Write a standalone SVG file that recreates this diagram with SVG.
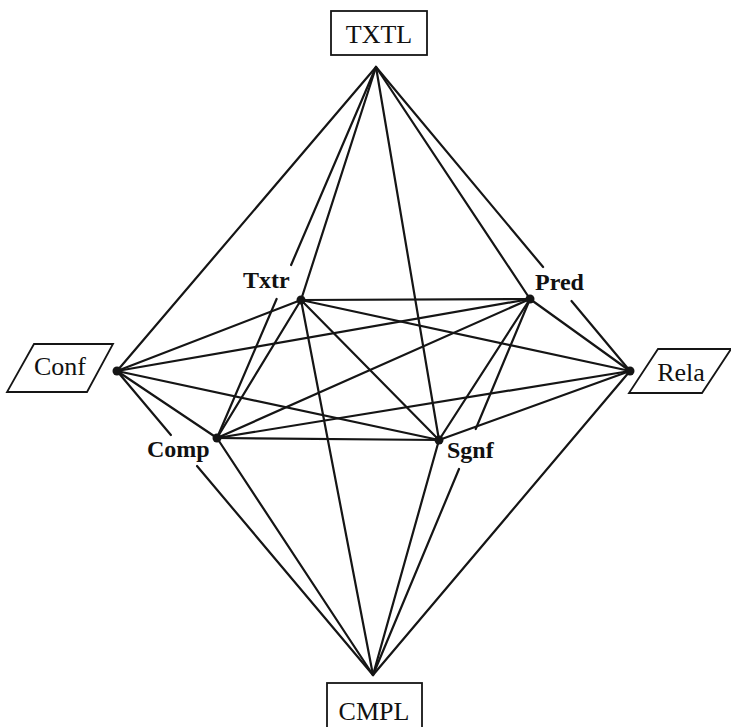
<svg xmlns="http://www.w3.org/2000/svg" width="731" height="727" viewBox="0 0 731 727">
<style>
.edge{stroke:#151515;stroke-width:2.2;fill:none;stroke-linecap:round}
.box{fill:#fff;stroke:#151515;stroke-width:1.8}
.big{font-family:"Liberation Serif","Times New Roman",serif;font-size:26px;fill:#111}
.lab{font-family:"Liberation Serif","Times New Roman",serif;font-size:24px;font-weight:bold;fill:#111}
.dot{fill:#151515}
</style>
<rect width="731" height="727" fill="#fff"/>
<g id="connectors">
<line class="edge" x1="376" y1="67" x2="117" y2="371"/>
<path class="edge" d="M376,67 L291.1,265 M276.6,299 L217,438"/>
<line class="edge" x1="376" y1="67" x2="301" y2="300"/>
<line class="edge" x1="376" y1="67" x2="439" y2="440"/>
<line class="edge" x1="376" y1="67" x2="530" y2="299"/>
<path class="edge" d="M376,67 L543.1,267 M571.5,301 L630,371"/>
<path class="edge" d="M117,371 L170.9,435 M197,466 L373,675"/>
<line class="edge" x1="217" y1="438" x2="373" y2="675"/>
<line class="edge" x1="301" y1="300" x2="373" y2="675"/>
<line class="edge" x1="439" y1="440" x2="373" y2="675"/>
<path class="edge" d="M530,299 L475.7,429 M459,469 L373,675"/>
<line class="edge" x1="630" y1="371" x2="373" y2="675"/>
<line class="edge" x1="301" y1="300" x2="530" y2="299"/>
<line class="edge" x1="301" y1="300" x2="117" y2="371"/>
<line class="edge" x1="301" y1="300" x2="630" y2="371"/>
<line class="edge" x1="301" y1="300" x2="217" y2="438"/>
<line class="edge" x1="301" y1="300" x2="439" y2="440"/>
<line class="edge" x1="530" y1="299" x2="117" y2="371"/>
<line class="edge" x1="530" y1="299" x2="630" y2="371"/>
<line class="edge" x1="530" y1="299" x2="217" y2="438"/>
<line class="edge" x1="530" y1="299" x2="439" y2="440"/>
<line class="edge" x1="117" y1="371" x2="439" y2="440"/>
<line class="edge" x1="117" y1="371" x2="217" y2="438"/>
<line class="edge" x1="630" y1="371" x2="217" y2="438"/>
<line class="edge" x1="630" y1="371" x2="439" y2="440"/>
<line class="edge" x1="217" y1="438" x2="439" y2="440"/>
</g>
<g id="TXTL">
<rect class="box" x="331" y="11" width="96" height="44"/>
<text class="big" x="379" y="43" text-anchor="middle">TXTL</text>
</g>
<g id="CMPL">
<rect class="box" x="327" y="683" width="95" height="60"/>
<text class="big" x="374" y="720" text-anchor="middle">CMPL</text>
</g>
<g id="Conf">
<polygon class="box" points="34,344 113,344 87,392 7,392"/>
<circle class="dot" cx="117" cy="371" r="4.5"/>
<text class="big" x="60" y="375" text-anchor="middle">Conf</text>
</g>
<g id="Rela">
<polygon class="box" points="658,349 731,349 702,393 629,393"/>
<circle class="dot" cx="630" cy="371" r="4.5"/>
<text class="big" x="681" y="381" text-anchor="middle">Rela</text>
</g>
<g id="Txtr">
<circle class="dot" cx="301" cy="300" r="4.5"/>
<text class="lab" x="243" y="288">Txtr</text>
</g>
<g id="Pred">
<circle class="dot" cx="530" cy="299" r="4.5"/>
<text class="lab" x="535" y="290">Pred</text>
</g>
<g id="Comp">
<circle class="dot" cx="217" cy="438" r="4.5"/>
<text class="lab" x="147" y="457">Comp</text>
</g>
<g id="Sgnf">
<circle class="dot" cx="439" cy="440" r="4.5"/>
<text class="lab" x="447" y="458">Sgnf</text>
</g>
</svg>
